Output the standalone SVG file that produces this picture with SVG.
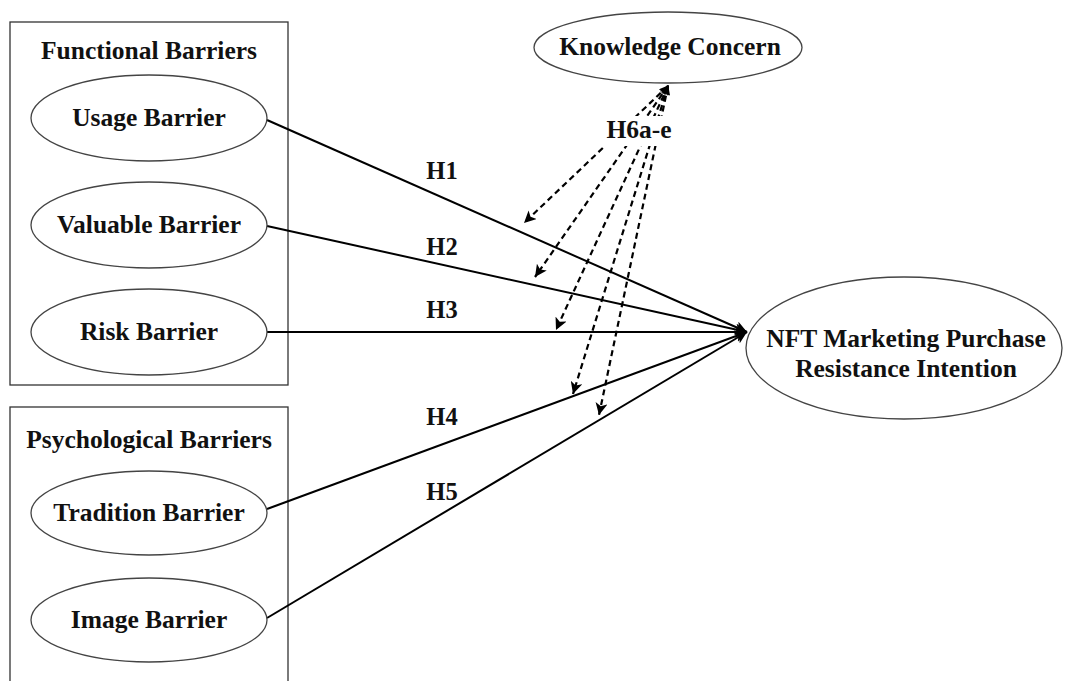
<svg xmlns="http://www.w3.org/2000/svg" width="1066" height="681" viewBox="0 0 1066 681">
  <style>
    .t{font-family:"Liberation Serif","Times New Roman",serif;font-weight:bold;font-size:25.5px;fill:#111;text-anchor:middle}
    .h{font-size:24.5px}
    .box{fill:none;stroke:#333;stroke-width:1.3}
    .el{fill:#fff;stroke:#444;stroke-width:1.3}
    .sol{fill:none;stroke:#000;stroke-width:2}
    .dash{fill:none;stroke:#000;stroke-width:2.2;stroke-dasharray:6 4}
  </style>
  <defs>
    <marker id="arr" markerUnits="userSpaceOnUse" markerWidth="14" markerHeight="12" refX="12" refY="6" orient="auto">
      <path d="M0,0 L12,6 L0,12 L3,6 z" fill="#000"/>
    </marker>
    <marker id="darr" markerUnits="userSpaceOnUse" markerWidth="14" markerHeight="12" refX="12" refY="6" orient="auto">
      <path d="M0,0 L12,6 L0,12 L3,6 z" fill="#000"/>
    </marker>
    <marker id="sarr" markerUnits="userSpaceOnUse" markerWidth="10" markerHeight="8" refX="1" refY="4" orient="auto">
      <path d="M10,0 L0,4 L10,8 L8,4 z" fill="#000"/>
    </marker>
  </defs>
  <rect width="1066" height="681" fill="#fff"/>

  <g id="functional-group">
    <rect class="box" x="10" y="22" width="278" height="363"/>
    <text class="t" x="149" y="59">Functional Barriers</text>
  </g>
  <g id="psychological-group">
    <rect class="box" x="10" y="407" width="278" height="290"/>
    <text class="t" x="149" y="448">Psychological Barriers</text>
  </g>

  <g id="connectors">
    <line class="sol" x1="267" y1="120" x2="747" y2="332" marker-end="url(#arr)"/>
    <line class="sol" x1="267" y1="226" x2="747" y2="332" marker-end="url(#arr)"/>
    <line class="sol" x1="267" y1="332" x2="747" y2="332" marker-end="url(#arr)"/>
    <line class="sol" x1="267" y1="509" x2="747" y2="332" marker-end="url(#arr)"/>
    <line class="sol" x1="267" y1="618" x2="747" y2="332" marker-end="url(#arr)"/>
    <line class="dash" x1="668" y1="86" x2="524" y2="223" marker-start="url(#sarr)" marker-end="url(#darr)"/>
    <line class="dash" x1="668" y1="86" x2="535" y2="277" marker-start="url(#sarr)" marker-end="url(#darr)"/>
    <line class="dash" x1="668" y1="86" x2="556" y2="330" marker-start="url(#sarr)" marker-end="url(#darr)"/>
    <line class="dash" x1="668" y1="86" x2="573" y2="394" marker-start="url(#sarr)" marker-end="url(#darr)"/>
    <line class="dash" x1="668" y1="86" x2="599" y2="415" marker-start="url(#sarr)" marker-end="url(#darr)"/>
    <rect x="603" y="116" width="72" height="30" fill="#fff"/>
    <text class="t" x="639" y="138">H6a-e</text>
    <text class="t h" x="442" y="179">H1</text>
    <text class="t h" x="442" y="255">H2</text>
    <text class="t h" x="442" y="318">H3</text>
    <text class="t h" x="442" y="425">H4</text>
    <text class="t h" x="442" y="500">H5</text>
  </g>

  <g id="usage-barrier">
    <ellipse class="el" cx="149" cy="118" rx="118" ry="43"/>
    <text class="t" x="149" y="126">Usage Barrier</text>
  </g>
  <g id="valuable-barrier">
    <ellipse class="el" cx="149" cy="225" rx="118" ry="43"/>
    <text class="t" x="149" y="233">Valuable Barrier</text>
  </g>
  <g id="risk-barrier">
    <ellipse class="el" cx="149" cy="332" rx="118" ry="43"/>
    <text class="t" x="149" y="340">Risk Barrier</text>
  </g>
  <g id="tradition-barrier">
    <ellipse class="el" cx="149" cy="513" rx="118" ry="42"/>
    <text class="t" x="149" y="521">Tradition Barrier</text>
  </g>
  <g id="image-barrier">
    <ellipse class="el" cx="149" cy="620" rx="118" ry="42"/>
    <text class="t" x="149" y="628">Image Barrier</text>
  </g>
  <g id="knowledge-concern">
    <ellipse class="el" cx="668" cy="47.5" rx="134" ry="35.5"/>
    <text class="t" x="670" y="55">Knowledge Concern</text>
  </g>
  <g id="nft-intention">
    <ellipse class="el" cx="904" cy="348" rx="158" ry="71"/>
    <text class="t" x="906" y="347">NFT Marketing Purchase</text>
    <text class="t" x="906" y="377">Resistance Intention</text>
  </g>
</svg>
